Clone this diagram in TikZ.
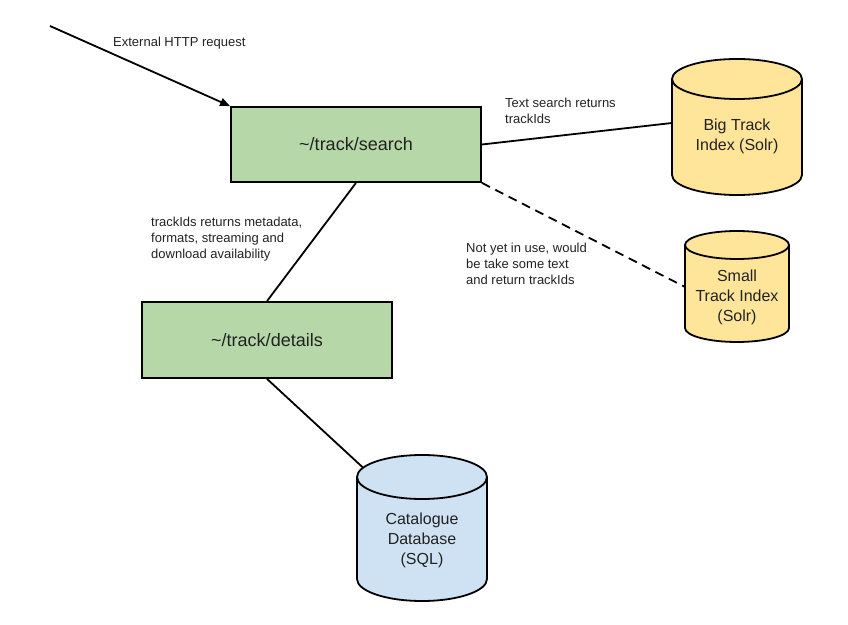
\documentclass[tikz,border=0pt]{standalone}
\usepackage{fontspec}
\setmainfont{Liberation Sans}
\usetikzlibrary{arrows.meta}
\definecolor{boxgreen}{HTML}{B6D7A8}
\definecolor{dbyellow}{HTML}{FFE599}
\definecolor{dbblue}{HTML}{CFE2F3}
\definecolor{txt}{HTML}{222222}
\newcommand\dbcyl[6]{%
  \filldraw[cylline, fill=#6] ({#1-#4},{#2-#5}) -- ({#1-#4},{#3+#5})
    arc[start angle=180,end angle=360,x radius=#4pt,y radius=#5pt]
    -- ({#1+#4},{#2-#5})
    arc[start angle=0,end angle=180,x radius=#4pt,y radius=#5pt] -- cycle;
  \draw[cylline] ({#1-#4},{#2-#5}) arc[start angle=180,end angle=360,x radius=#4pt,y radius=#5pt];
}
\tikzset{
  cylline/.style={line width=1.8pt, draw=black, line join=round},
  svcbox/.style={draw=black, line width=1.8pt, fill=boxgreen, minimum width=250pt, inner sep=0pt,
                 font=\fontsize{18}{22}\selectfont, text=txt},
  dbtext/.style={align=center, inner sep=0pt, font=\fontsize{16}{20}\selectfont, text=txt},
  lbl/.style={align=left, inner sep=0pt, anchor=west, font=\fontsize{13}{16}\selectfont, text=txt},
  conn/.style={line width=1.8pt, draw=black},
}
\begin{document}
\begin{tikzpicture}[x=1pt,y=1pt]
\useasboundingbox (0,0) rectangle (848,624);
% cylinders
\dbcyl{737}{565}{429}{65}{20}{dbyellow}
\dbcyl{737}{393}{282}{52}{14}{dbyellow}
\dbcyl{422}{169}{23}{65}{22}{dbblue}
\node[dbtext] (bigtxt) at (737,488) {Big Track\\Index (Solr)};
\node[dbtext] (smalltxt) at (737,327) {Small\\Track Index\\(Solr)};
\node[dbtext] (cattxt) at (422,84) {Catalogue\\Database\\(SQL)};
\coordinate (bigW) at (672,501);
\coordinate (smallW) at (685,337);
\coordinate (catin) at (363.1,156.3);
% service boxes
\node[svcbox, minimum height=75pt] (search) at (356,479.5) {\textasciitilde/track/search};
\node[svcbox, minimum height=76pt] (details) at (267,284) {\textasciitilde/track/details};
% external request
\coordinate (ext) at (50,598);
\draw[conn, -{Triangle[length=10pt,width=8pt]}] (ext) -- (search.north west);
% connectors
\draw[conn] (search.east) -- (bigW);
\draw[conn, dash pattern=on 9pt off 6pt] (search.south east) -- (smallW);
\draw[conn] (search.south) -- (details.north);
\draw[conn] (details.south) -- (catin);
% labels
\node[lbl] (lext) at (113,581) {External HTTP request};
\node[lbl] (lsearch) at (505,513) {Text search returns\\trackIds};
\node[lbl] (lsmall) at (466,360) {Not yet in use, would\\be take some text\\and return trackIds};
\node[lbl] (ldetails) at (151,385) {trackIds returns metadata,\\formats, streaming and\\download availability};
\end{tikzpicture}
\end{document}
